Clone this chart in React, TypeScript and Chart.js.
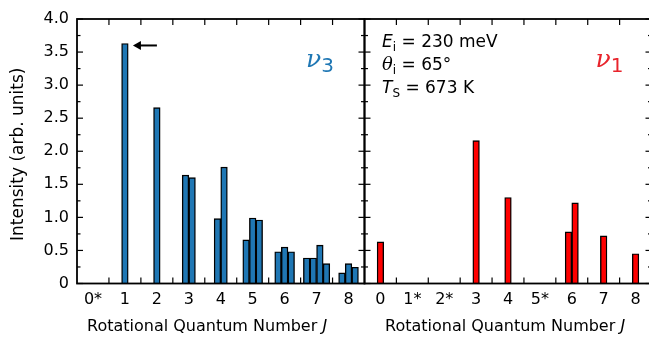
import React, { useEffect, useRef } from "react";
import { Chart, registerables } from "chart.js";

Chart.register(...registerables);

const SANS = "'DejaVu Sans', 'Liberation Sans', sans-serif";
const SERIF = "'DejaVu Serif', 'Liberation Serif', serif";

// Categories (rotational quantum number J)
const nu3Categories = ["0*", "1", "2", "3", "4", "5", "6", "7", "8"];
const nu1Categories = ["0", "1*", "2*", "3", "4", "5*", "6", "7", "8"];

// nu3 sub-bars per J (null = no bar)
const nu3BarA = [null, 3.63, 2.66, 1.64, 0.98, 0.66, 0.48, 0.385, 0.16];
const nu3BarB = [null, null, null, 1.6, 1.76, 0.99, 0.55, 0.385, 0.3];
const nu3BarC = [null, null, null, null, null, 0.96, 0.48, 0.58, 0.245];
const nu3BarD = [null, null, null, null, null, null, null, 0.3, null];

// nu1 sub-bars per J
const nu1BarA = [0.63, null, null, 2.16, 1.3, null, 0.78, 0.72, 0.45];
const nu1BarB = [null, null, null, null, null, null, 1.22, null, null];

// y axis ticks
const yTickValues = [0, 0.5, 1, 1.5, 2, 2.5, 3, 3.5, 4];
const yTickLabels = ["0", "0.5", "1.0", "1.5", "2.0", "2.5", "3.0", "3.5", "4.0"];

const BLUE = "#1f77b4";
const RED = "#ff0000";

type Run = { t: string; font: string; dy?: number; color?: string };
function drawRuns(ctx: CanvasRenderingContext2D, x: number, y: number, runs: Run[]) {
  let cx = x;
  ctx.textAlign = "left";
  ctx.textBaseline = "alphabetic";
  for (const r of runs) {
    ctx.font = r.font;
    ctx.fillStyle = r.color || "#000";
    ctx.fillText(r.t, cx, y + (r.dy || 0));
    cx += ctx.measureText(r.t).width;
  }
}

const framePlugin = {
  id: "frame",
  afterDatasetsDraw(chart: any) {
    const { ctx, chartArea: a, scales } = chart;
    const x = scales.x;
    const y = scales.y;
    const seg = (x0: number, y0: number, x1: number, y1: number) => {
      ctx.beginPath();
      ctx.moveTo(x0, y0);
      ctx.lineTo(x1, y1);
      ctx.stroke();
    };
    ctx.save();
    ctx.strokeStyle = "#000";
    ctx.lineWidth = 1.2;
    yTickValues.forEach((v, i) => {
      const py = y.getPixelForValue(v);
      seg(a.left, py, a.left + 6, py);
      seg(a.right, py, a.right - 6, py);
      if (i < yTickValues.length - 1) {
        const pm = y.getPixelForValue((v + yTickValues[i + 1]) / 2);
        seg(a.left, pm, a.left + 3.5, pm);
        seg(a.right, pm, a.right - 3.5, pm);
      }
    });
    const n = x.getLabels().length;
    for (let i = 0; i < n - 1; i++) {
      const px = (x.getPixelForValue(i) + x.getPixelForValue(i + 1)) / 2;
      seg(px, a.bottom, px, a.bottom - 6);
      seg(px, a.top, px, a.top + 6);
    }
    ctx.lineWidth = 1.8;
    ctx.strokeRect(a.left, a.top, a.right - a.left, a.bottom - a.top);
    ctx.restore();
  },
};

const xTitleRuns: Run[] = [
  { t: "Rotational Quantum Number ", font: `16px ${SANS}` },
  { t: "J", font: `italic 16px ${SANS}` },
];

const leftTextPlugin = {
  id: "leftText",
  afterDraw(chart: any) {
    const { ctx, chartArea: a, scales } = chart;
    ctx.save();
    // y title
    ctx.translate(19, (a.top + a.bottom) / 2 + 3);
    ctx.rotate(-Math.PI / 2);
    ctx.font = `17px ${SANS}`;
    ctx.fillStyle = "#000";
    ctx.textAlign = "center";
    ctx.textBaseline = "middle";
    ctx.fillText("Intensity (arb. units)", 0, 0);
    ctx.restore();

    ctx.save();
    drawRuns(ctx, a.left + 10, 331, xTitleRuns);
    drawRuns(ctx, a.left + 229, 67, [
      { t: "\u03BD", font: `italic 25px ${SERIF}`, color: BLUE },
      { t: "3", font: `20px ${SANS}`, dy: 5, color: BLUE },
    ]);
    // arrow pointing at J=1 peak
    const px = scales.x.getPixelForValue(1);
    const py = scales.y.getPixelForValue(nu3BarA[1] as number) + 2;
    const tip = px + 8;
    const tail = px + 32;
    ctx.strokeStyle = "#000";
    ctx.fillStyle = "#000";
    ctx.lineWidth = 2;
    ctx.beginPath();
    ctx.moveTo(tail, py);
    ctx.lineTo(tip + 5, py);
    ctx.stroke();
    ctx.beginPath();
    ctx.moveTo(tip, py);
    ctx.lineTo(tip + 8, py - 4.5);
    ctx.lineTo(tip + 8, py + 4.5);
    ctx.closePath();
    ctx.fill();
    ctx.restore();
  },
};

const rightTextPlugin = {
  id: "rightText",
  afterDraw(chart: any) {
    const { ctx, chartArea: a } = chart;
    ctx.save();
    drawRuns(ctx, a.left + 20.5, 331, xTitleRuns);
    const tx = a.left + 17.5;
    drawRuns(ctx, tx, 47, [
      { t: "E", font: `italic 17px ${SANS}` },
      { t: "i", font: `12px ${SANS}`, dy: 4 },
      { t: " = 230 meV", font: `17px ${SANS}` },
    ]);
    drawRuns(ctx, tx, 70, [
      { t: "\u03B8", font: `italic 18px ${SERIF}` },
      { t: "i", font: `12px ${SANS}`, dy: 4 },
      { t: " = 65\u00B0", font: `17px ${SANS}` },
    ]);
    drawRuns(ctx, tx, 93, [
      { t: "T", font: `italic 17px ${SANS}` },
      { t: "S", font: `12px ${SANS}`, dy: 4 },
      { t: " = 673 K", font: `17px ${SANS}` },
    ]);
    drawRuns(ctx, a.left + 231, 67, [
      { t: "\u03BD", font: `italic 25px ${SERIF}`, color: "#e8242c" },
      { t: "1", font: `20px ${SANS}`, dy: 5, color: "#e8242c" },
    ]);
    ctx.restore();
  },
};

function barDs(data: (number | null)[], color: string) {
  return {
    data,
    backgroundColor: color,
    borderColor: "#000",
    borderWidth: 1.4,
    barThickness: 6.6,
    skipNull: true,
  };
}

function xScale(labels: string[]) {
  return {
    type: "category",
    labels,
    offset: true,
    grid: { display: false, drawTicks: false },
    border: { display: false },
    ticks: {
      color: "#000",
      font: { family: SANS, size: 16 },
      padding: 7,
      autoSkip: false,
      maxRotation: 0,
    },
    afterFit: (s: any) => {
      s.height = 53.5;
    },
  };
}

function yScale(show: boolean) {
  return {
    type: "linear",
    display: show,
    min: 0,
    max: 4,
    grid: { display: false, drawTicks: false },
    border: { display: false },
    afterBuildTicks: (s: any) => {
      s.ticks = yTickValues.map((v) => ({ value: v }));
    },
    ticks: {
      color: "#000",
      font: { family: SANS, size: 16 },
      padding: 8,
      callback: (_v: any, i: number) => yTickLabels[i],
    },
    afterFit: (s: any) => {
      s.width = show ? 77 : 0;
    },
  };
}

export default function App() {
  const leftRef = useRef<HTMLCanvasElement>(null);
  const rightRef = useRef<HTMLCanvasElement>(null);

  useEffect(() => {
    const common = {
      responsive: false,
      animation: false,
      plugins: { legend: { display: false }, tooltip: { enabled: false } },
    };
    const left = new Chart(leftRef.current as HTMLCanvasElement, {
      type: "bar",
      data: {
        labels: nu3Categories,
        datasets: [
          barDs(nu3BarA, BLUE),
          barDs(nu3BarB, BLUE),
          barDs(nu3BarC, BLUE),
          barDs(nu3BarD, BLUE),
        ],
      },
      options: {
        ...common,
        layout: { padding: { left: 0, right: 1.5, top: 19, bottom: 0 } },
        scales: { x: xScale(nu3Categories), y: yScale(true) },
      } as any,
      plugins: [framePlugin, leftTextPlugin],
    } as any);
    const right = new Chart(rightRef.current as HTMLCanvasElement, {
      type: "bar",
      data: {
        labels: nu1Categories,
        datasets: [barDs(nu1BarA, RED), barDs(nu1BarB, RED)],
      },
      options: {
        ...common,
        layout: { padding: { left: 1.5, right: 1.5, top: 19, bottom: 0 } },
        scales: { x: xScale(nu1Categories), y: yScale(false) },
      } as any,
      plugins: [framePlugin, rightTextPlugin],
    } as any);
    return () => {
      left.destroy();
      right.destroy();
    };
  }, []);

  return (
    <div
      style={{
        position: "absolute",
        left: 0,
        top: 0,
        width: 649,
        height: 337,
        overflow: "hidden",
        background: "#fff",
      }}
    >
      <canvas
        ref={leftRef}
        width={366}
        height={337}
        style={{ position: "absolute", left: 0, top: 0, width: 366, height: 337 }}
      />
      <canvas
        ref={rightRef}
        width={290}
        height={337}
        style={{ position: "absolute", left: 363, top: 0, width: 290, height: 337 }}
      />
    </div>
  );
}
